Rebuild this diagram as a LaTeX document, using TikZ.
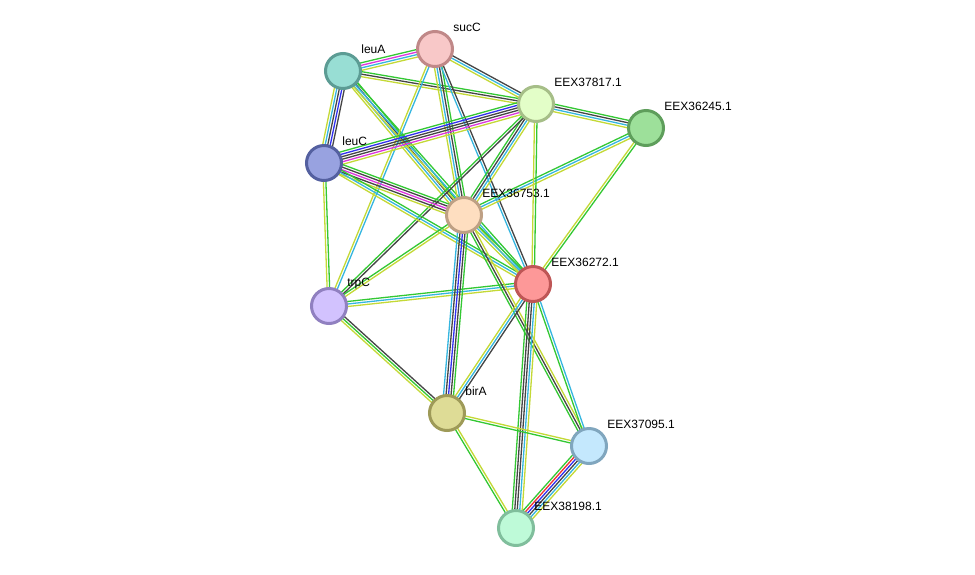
\documentclass[tikz,border=0pt]{standalone}
\usepackage{fontspec}
\setmainfont{Liberation Sans}
\usetikzlibrary{calc,backgrounds}
% evidence channels
\definecolor{cNeigh}{HTML}{33C833}
\definecolor{cText}{HTML}{C4D936}
\definecolor{cDb}{HTML}{35B6E0}
\definecolor{cCoex}{HTML}{454545}
\definecolor{cExpt}{HTML}{DD35DD}
\definecolor{cCooc}{HTML}{3030F0}
\definecolor{cFuse}{HTML}{F03030}
% proteins: fill / rim
\definecolor{fSucC}{HTML}{F8C8C8}\definecolor{bSucC}{HTML}{C08888}
\definecolor{fLeuA}{HTML}{98DED4}\definecolor{bLeuA}{HTML}{5C9C94}
\definecolor{fE817}{HTML}{E3FEC8}\definecolor{bE817}{HTML}{A6BE88}
\definecolor{fE245}{HTML}{9DE09A}\definecolor{bE245}{HTML}{5E9E5B}
\definecolor{fLeuC}{HTML}{98A2E0}\definecolor{bLeuC}{HTML}{5460A0}
\definecolor{fE753}{HTML}{FEDEC0}\definecolor{bE753}{HTML}{BEA084}
\definecolor{fE272}{HTML}{FD9898}\definecolor{bE272}{HTML}{BE5656}
\definecolor{fTrpC}{HTML}{D2C2FE}\definecolor{bTrpC}{HTML}{9080C0}
\definecolor{fBirA}{HTML}{DEDC96}\definecolor{bBirA}{HTML}{9E9A58}
\definecolor{fE095}{HTML}{C4E8FD}\definecolor{bE095}{HTML}{80A6BE}
\definecolor{fE198}{HTML}{BEFAD8}\definecolor{bE198}{HTML}{80BE9C}
\tikzset{
  prot/.style={circle,line width=1.5pt,inner sep=0pt,minimum size=17.5pt},
  lbl/.style={font=\fontsize{6}{7}\selectfont,inner sep=0pt},
  tag/.style={label={[lbl,yshift=11pt,label distance=-0.5pt]right:#1}},
  wire/.style={line width=.65pt},
}
% parallel coloured strands between two proteins
\newcommand{\strlink}[3]{%
  \foreach \c [count=\n] in {#3} {\xdef\nstrands{\n}}%
  \foreach \c [count=\i] in {#3} {%
    \pgfmathsetmacro\off{((\nstrands+1)/2-\i)*1.25}%
    \draw[wire,draw=\c] ($(#1)!\off pt!90:(#2)$) -- ($(#2)!\off pt!-90:(#1)$);
  }%
}
\begin{document}
\begin{tikzpicture}[x=0.5pt,y=-0.5pt]
  \useasboundingbox (0,0) rectangle (975,574);
  % proteins
  \node[prot,fill=fSucC,draw=bSucC,tag=sucC] (sucC) at (435,49) {};
  \node[prot,fill=fLeuA,draw=bLeuA,tag=leuA] (leuA) at (343,71) {};
  \node[prot,fill=fE817,draw=bE817,tag=EEX37817.1] (e37817) at (536,104) {};
  \node[prot,fill=fE245,draw=bE245,tag=EEX36245.1] (e36245) at (646,128) {};
  \node[prot,fill=fLeuC,draw=bLeuC,tag=leuC] (leuC) at (324,163) {};
  \node[prot,fill=fE753,draw=bE753,tag=EEX36753.1] (e36753) at (464,215) {};
  \node[prot,fill=fE272,draw=bE272,tag=EEX36272.1] (e36272) at (533,284) {};
  \node[prot,fill=fTrpC,draw=bTrpC,tag=trpC] (trpC) at (329,306) {};
  \node[prot,fill=fBirA,draw=bBirA,tag=birA] (birA) at (447,413) {};
  \node[prot,fill=fE095,draw=bE095,tag=EEX37095.1] (e37095) at (589,446) {};
  \node[prot,fill=fE198,draw=bE198,tag=EEX38198.1] (e38198) at (516,528) {};
  % edges under the proteins
  \begin{scope}[on background layer]
    \fill[white] (0,0) rectangle (975,574);
    \strlink{leuA}{sucC}{cNeigh,cExpt,cDb,cText}
    \strlink{leuA}{e37817}{cNeigh,cCoex,cText}
    \strlink{sucC}{e37817}{cCoex,cDb,cText}
    \strlink{leuC}{leuA}{cText,cDb,cCoex,cCooc,cCoex}
    \strlink{leuA}{e36753}{cNeigh,cCoex,cDb,cText}
    \strlink{leuA}{e36272}{cNeigh,cDb,cText}
    \strlink{trpC}{sucC}{cText,cDb}
    \strlink{e36753}{sucC}{cText,cDb,cCoex,cNeigh}
    \strlink{e36272}{sucC}{cDb,cCoex}
    \strlink{e37817}{e36245}{cNeigh,cCoex,cDb,cText}
    \strlink{leuC}{e37817}{cNeigh,cCooc,cCoex,cCoex,cExpt,cText}
    \strlink{e36753}{e37817}{cNeigh,cCoex,cDb,cText}
    \strlink{trpC}{e37817}{cNeigh,cCoex}
    \strlink{e36753}{e36245}{cNeigh,cDb,cText}
    \strlink{e36272}{e36245}{cText,cNeigh}
    \strlink{e36272}{e37817}{cText,cNeigh}
    \strlink{leuC}{e36753}{cNeigh,cCoex,cExpt,cCoex,cText}
    \strlink{leuC}{e36272}{cNeigh,cDb,cText}
    \strlink{trpC}{leuC}{cText,cNeigh}
    \strlink{trpC}{e36753}{cNeigh,cText}
    \strlink{trpC}{e36272}{cNeigh,cDb,cText}
    \strlink{e36753}{e36272}{cNeigh,cDb,cText}
    \strlink{birA}{e36753}{cDb,cCoex,cCooc,cCoex,cNeigh}
    \strlink{e36753}{e37095}{cText,cCoex,cNeigh}
    \strlink{e36272}{e37095}{cDb,cNeigh}
    \strlink{e38198}{e36272}{cNeigh,cCoex,cCoex,cDb,cText}
    \strlink{birA}{e36272}{cText,cDb,cCoex}
    \strlink{trpC}{birA}{cCoex,cNeigh,cText}
    \strlink{birA}{e37095}{cText,cNeigh}
    \strlink{e38198}{birA}{cNeigh,cText}
    \strlink{e38198}{e37095}{cNeigh,cFuse,cCooc,cCoex,cDb,cText}
  \end{scope}
\end{tikzpicture}
\end{document}
